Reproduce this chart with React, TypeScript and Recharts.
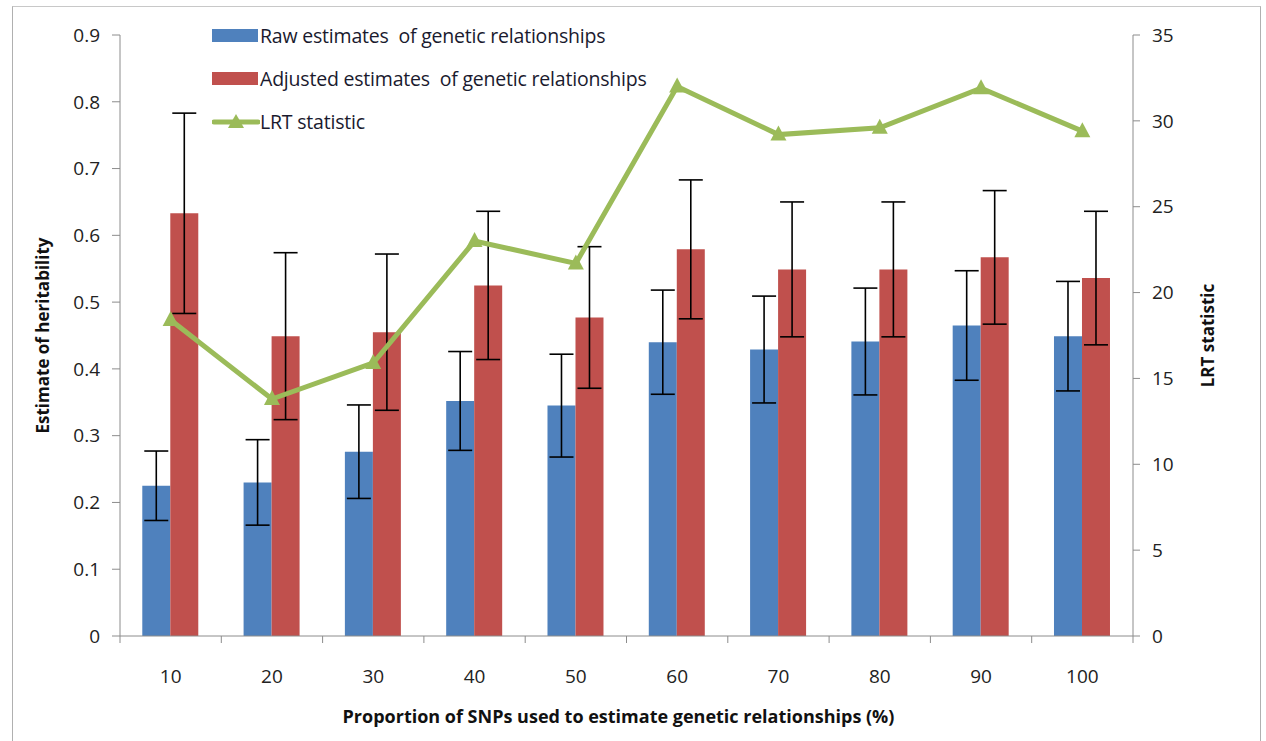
import React from "react";
import {
  ComposedChart, Bar, Line, XAxis, YAxis, ErrorBar, Legend,
} from "recharts";

const pcts = ["10", "20", "30", "40", "50", "60", "70", "80", "90", "100"];
const rawEst = [0.225, 0.23, 0.276, 0.352, 0.345, 0.44, 0.429, 0.441, 0.465, 0.449];
const rawErr = [0.052, 0.064, 0.07, 0.074, 0.077, 0.078, 0.08, 0.08, 0.082, 0.082];
const adjEst = [0.633, 0.449, 0.455, 0.525, 0.477, 0.579, 0.549, 0.549, 0.567, 0.536];
const adjErr = [0.15, 0.125, 0.117, 0.111, 0.106, 0.104, 0.101, 0.101, 0.1, 0.1];
const lrt = [18.4, 13.8, 15.9, 23.0, 21.7, 32.0, 29.2, 29.6, 31.9, 29.4];

const leftTicks = [0, 0.1, 0.2, 0.3, 0.4, 0.5, 0.6, 0.7, 0.8, 0.9];
const rightTicks = [0, 5, 10, 15, 20, 25, 30, 35];

const BLUE = "#4F81BD";
const RED = "#C0504D";
const GREEN = "#9BBB59";
const AXIS = "#8c8c8c";
const FONT = "'Open Sans', sans-serif";

const W = 1266;
const H = 741;
const PLOT_LEFT = 120;
const PLOT_RIGHT = 1133;
const BAND = (PLOT_RIGHT - PLOT_LEFT) / pcts.length;

const data = pcts.map((p, i) => ({
  pct: p,
  raw: rawEst[i],
  rawErr: rawErr[i],
  adj: adjEst[i],
  adjErr: adjErr[i],
  lrt: lrt[i],
}));

function Triangle({ cx, cy }: { cx?: number; cy?: number }) {
  if (cx == null || cy == null) return null;
  return (
    <polygon
      points={`${cx},${cy - 9} ${cx + 8},${cy + 6} ${cx - 8},${cy + 6}`}
      fill={GREEN}
    />
  );
}

// category ticks sit between the groups, like Excel
function XTick({ x, y, payload, index }: any) {
  const last = index === pcts.length - 1;
  return (
    <g>
      <line x1={x - BAND / 2} x2={x - BAND / 2} y1={y} y2={y + 7} stroke={AXIS} />
      {last && <line x1={x + BAND / 2} x2={x + BAND / 2} y1={y} y2={y + 7} stroke={AXIS} />}
      <text x={x} y={y + 47} textAnchor="middle" fontSize={19} fill="#222" fontFamily={FONT}>
        {payload.value}
      </text>
    </g>
  );
}

function XTitle({ viewBox }: any) {
  const cx = (viewBox?.x ?? 0) + (viewBox?.width ?? 0) / 2;
  return (
    <text x={cx - 8} y={723} textAnchor="middle" fontSize={18} fontWeight="bold" fill="#111" fontFamily={FONT}>
      Proportion of SNPs used to estimate genetic relationships (%)
    </text>
  );
}

function YTitle({ viewBox, posX, title }: any) {
  const cy = (viewBox?.y ?? 0) + (viewBox?.height ?? 0) / 2;
  return (
    <text
      x={posX}
      y={cy}
      transform={`rotate(-90, ${posX}, ${cy})`}
      textAnchor="middle"
      dominantBaseline="central"
      fontSize={17}
      fontWeight="bold"
      fill="#111"
      fontFamily={FONT}
    >
      {title}
    </text>
  );
}

function LegendBox() {
  const rowStyle: React.CSSProperties = {
    display: "flex", alignItems: "center", height: 43, fontSize: 19.5,
    fontFamily: FONT, color: "#1a1a2e", whiteSpace: "pre", letterSpacing: -0.2,
  };
  return (
    <div>
      <div style={rowStyle}>
        <div style={{ width: 46, height: 13, background: BLUE, marginRight: 2 }} />
        Raw estimates  of genetic relationships
      </div>
      <div style={rowStyle}>
        <div style={{ width: 46, height: 13, background: RED, marginRight: 2 }} />
        Adjusted estimates  of genetic relationships
      </div>
      <div style={rowStyle}>
        <svg width={48} height={18}>
          <line x1={2} x2={46} y1={9} y2={9} stroke={GREEN} strokeWidth={5} strokeLinecap="round" />
          <polygon points="24,1 32,15 16,15" fill={GREEN} />
        </svg>
        LRT statistic
      </div>
    </div>
  );
}

export default function App() {
  return (
    <div style={{ position: "absolute", left: 0, top: 0, width: W, height: H, background: "#fff" }}>
      <div
        style={{
          position: "absolute", left: 12, top: 6, width: 1247, height: 740,
          borderLeft: "1px solid #b0b0b0", borderTop: "1px solid #c8c8c8", borderRight: "1px solid #b0b0b0",
        }}
      />
      <ComposedChart
        width={W}
        height={H}
        data={data}
        margin={{ top: 35, right: 43, left: 40, bottom: 0 }}
        barCategoryGap="22%"
        barGap={0}
        style={{ position: "absolute", left: 0, top: 0 }}
      >
        <XAxis
          dataKey="pct"
          height={105}
          axisLine={{ stroke: AXIS }}
          tickLine={false}
          tickSize={0}
          tickMargin={0}
          tick={<XTick />}
          interval={0}
          label={<XTitle />}
        />
        <YAxis
          yAxisId="left"
          width={80}
          domain={[0, 0.9]}
          ticks={leftTicks}
          tickFormatter={(v) => String(v)}
          axisLine={{ stroke: AXIS }}
          tickLine={{ stroke: AXIS }}
          tickSize={8}
          tickMargin={12}
          tick={{ fontSize: 19, fill: "#222", fontFamily: FONT }}
          label={<YTitle posX={42} title="Estimate of heritability" />}
        />
        <YAxis
          yAxisId="right"
          orientation="right"
          width={90}
          domain={[0, 35]}
          ticks={rightTicks}
          axisLine={{ stroke: AXIS }}
          tickLine={{ stroke: AXIS }}
          tickSize={7}
          tickMargin={12}
          tick={{ fontSize: 19, fill: "#222", fontFamily: FONT }}
          label={<YTitle posX={1207} title="LRT statistic" />}
        />
        <Legend
          layout="horizontal"
          verticalAlign="middle"
          align="center"
          content={<LegendBox />}
          wrapperStyle={{ position: "absolute", left: 212, top: 14, width: 520 }}
        />
        <Bar yAxisId="left" dataKey="raw" fill={BLUE} isAnimationActive={false}>
          <ErrorBar dataKey="rawErr" width={12} stroke="#000" strokeWidth={1.6} direction="y" />
        </Bar>
        <Bar yAxisId="left" dataKey="adj" fill={RED} isAnimationActive={false}>
          <ErrorBar dataKey="adjErr" width={12} stroke="#000" strokeWidth={1.6} direction="y" />
        </Bar>
        <Line
          yAxisId="right"
          type="linear"
          dataKey="lrt"
          stroke={GREEN}
          strokeWidth={5}
          dot={<Triangle />}
          activeDot={false}
          isAnimationActive={false}
        />
      </ComposedChart>
    </div>
  );
}
